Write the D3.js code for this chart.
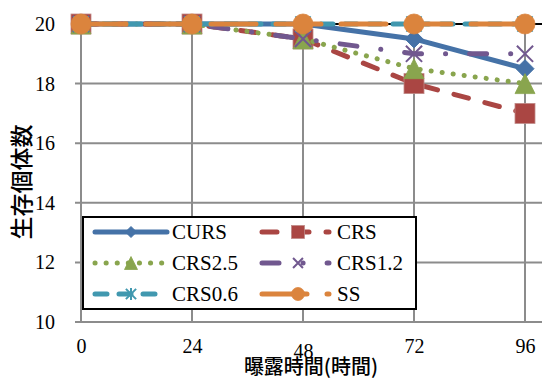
<!DOCTYPE html>
<html><head><meta charset="utf-8">
<script src="https://cdn.jsdelivr.net/npm/d3@7"></script>
<style>body{margin:0;background:#fff}svg{display:block}
svg text.serif{font-family:"Liberation Serif","Times New Roman",Tinos,serif !important}
</style>
</head><body>
<script>
const hours = [0, 24, 48, 72, 96];
const xTicks = ["0", "24", "48", "72", "96"];
const yTicks = [10, 12, 14, 16, 18, 20];
const seriesNames = ["CURS", "CRS", "CRS2.5", "CRS1.2", "CRS0.6", "SS"];
const valCURS  = [20, 20, 20, 19.5, 18.5];
const valCRS   = [20, 20, 19.5, 18, 17];
const valCRS25 = [20, 20, 19.5, 18.5, 18];
const valCRS12 = [20, 20, 19.5, 19, 19];
const valCRS06 = [20, 20, 20, 20, 20];
const valSS    = [20, 20, 20, 20, 20];
const xTitle = "曝露時間(時間)";
const yTitle = "生存個体数";

const W = 542, H = 380;
const SERIF = '"Liberation Serif", "Times New Roman", Tinos, serif';
const svg = d3.select("body").append("svg").attr("width", W).attr("height", H);
const x = d3.scaleLinear().domain([0, 96]).range([81, 525]);
const y = d3.scaleLinear().domain([10, 20]).range([322, 24]);
const grid = "#8c8c8c";

function serifText(sel, size) {
  return sel.attr("class", "serif").attr("font-family", null)
    .style("font-family", SERIF, "important")
    .attr("font-size", null).style("font-size", size + "px", "important").attr("fill", "#000");
}

// gridlines
const g = svg.append("g");
yTicks.forEach(t => {
  g.append("line").attr("x1", 75).attr("x2", W).attr("y1", y(t)).attr("y2", y(t))
   .attr("stroke", t === 20 ? "#000" : grid).attr("stroke-width", 2);
});
hours.forEach(h => {
  g.append("line").attr("x1", x(h)).attr("x2", x(h)).attr("y1", y(20)).attr("y2", y(10))
   .attr("stroke", grid).attr("stroke-width", 2);
});

// series definitions
const series = [
  {name: seriesNames[0], vals: valCURS,  color: "#4572A7", dash: null,           marker: "diamond"},
  {name: seriesNames[1], vals: valCRS,   color: "#AA4643", dash: "15,17",        marker: "square"},
  {name: seriesNames[2], vals: valCRS25, color: "#89A54E", dash: "0.1,11",       marker: "triangle"},
  {name: seriesNames[3], vals: valCRS12, color: "#71588F", dash: "17,24,0.1,24", marker: "x"},
  {name: seriesNames[4], vals: valCRS06, color: "#4198AF", dash: "12,12",        marker: "star"},
  {name: seriesNames[5], vals: valSS,    color: "#DB843D", dash: "45,20",        marker: "circle"}
];

function drawMarker(sel, type, cx, cy, color, s) {
  const h = s / 2;
  if (type === "diamond") {
    sel.append("path").attr("d", `M${cx},${cy - h}L${cx + h},${cy}L${cx},${cy + h}L${cx - h},${cy}Z`)
      .attr("fill", color).attr("stroke", color).attr("stroke-width", 1);
  } else if (type === "square") {
    sel.append("rect").attr("x", cx - h).attr("y", cy - h).attr("width", s).attr("height", s)
      .attr("fill", color).attr("stroke", "#c08a88").attr("stroke-width", 0.8);
  } else if (type === "triangle") {
    sel.append("path").attr("d", `M${cx},${cy - h}L${cx + h},${cy + h}L${cx - h},${cy + h}Z`)
      .attr("fill", color).attr("stroke", color).attr("stroke-width", 0.8);
  } else if (type === "x") {
    const k = h * 0.9;
    sel.append("path").attr("d", `M${cx - k},${cy - k}L${cx + k},${cy + k}M${cx - k},${cy + k}L${cx + k},${cy - k}`)
      .attr("stroke", color).attr("stroke-width", 2).attr("fill", "none");
  } else if (type === "star") {
    const k = h * 0.85;
    sel.append("path").attr("d", `M${cx - k},${cy - k}L${cx + k},${cy + k}M${cx - k},${cy + k}L${cx + k},${cy - k}M${cx},${cy - h}L${cx},${cy + h}`)
      .attr("stroke", color).attr("stroke-width", 2).attr("fill", "none");
  } else if (type === "circle") {
    sel.append("circle").attr("cx", cx).attr("cy", cy).attr("r", h)
      .attr("fill", color).attr("stroke", color).attr("stroke-width", 0.8);
  }
}

const chartSize = {diamond: 18, square: 20, triangle: 20, x: 18, star: 18, circle: 20};
const legendSize = {diamond: 11, square: 13, triangle: 13, x: 11, star: 12, circle: 13};

const line = d3.line().x((d, i) => x(hours[i])).y(d => y(d));
const plot = svg.append("g");
series.forEach(s => {
  const gs = plot.append("g");
  const p = gs.append("path").attr("d", line(s.vals)).attr("fill", "none")
    .attr("stroke", s.color).attr("stroke-width", 5)
    .attr("stroke-linecap", s.dash ? "round" : "butt").attr("stroke-linejoin", "round");
  if (s.dash) p.attr("stroke-dasharray", s.dash);
  s.vals.forEach((v, i) => drawMarker(gs, s.marker, x(hours[i]), y(v), s.color, chartSize[s.marker]));
});

// legend
const lg = svg.append("g");
lg.append("rect").attr("x", 83).attr("y", 217).attr("width", 333).attr("height", 92)
  .attr("fill", "#fff").attr("stroke", "#000").attr("stroke-width", 2);
const rows = [232, 263, 294];
const cols = [{x1: 95, x2: 167, m: 131, t: 172}, {x1: 262, x2: 329, m: 298, t: 337}];
series.forEach((s, i) => {
  const c = cols[i % 2], ry = rows[Math.floor(i / 2)];
  const p = lg.append("line").attr("x1", c.x1).attr("x2", c.x2).attr("y1", ry).attr("y2", ry)
    .attr("stroke", s.color).attr("stroke-width", 5).attr("stroke-linecap", "round");
  if (s.dash) p.attr("stroke-dasharray", s.dash);
  drawMarker(lg, s.marker, c.m, ry, s.color, legendSize[s.marker]);
  serifText(lg.append("text").attr("x", c.t).attr("y", ry).attr("dy", "0.35em"), 21).text(s.name);
});

// axes labels via d3 axes
const yAxis = svg.append("g").attr("transform", `translate(${x(0) - 23},0)`)
  .call(d3.axisLeft(y).tickValues(yTicks).tickSize(0).tickFormat(d3.format("d")));
yAxis.attr("font-family", null).attr("font-size", null);
yAxis.select(".domain").remove();
serifText(yAxis.selectAll("text"), 20);

const xAxis = svg.append("g").attr("transform", `translate(0,${y(10) + 14})`)
  .call(d3.axisBottom(x).tickValues(hours).tickSize(0).tickFormat((d, i) => xTicks[i]));
xAxis.attr("font-family", null).attr("font-size", null);
xAxis.select(".domain").remove();
serifText(xAxis.selectAll("text"), 20).attr("dy", (d, i) => i === 2 ? "0.95em" : "0.71em");

svg.append("text").attr("x", 311).attr("y", 374).attr("text-anchor", "middle")
  .style("font-family", '"Noto Sans CJK JP", sans-serif')
  .style("font-size", "20px").style("font-weight", 500).text(xTitle);
svg.append("text").attr("transform", "translate(30,182) rotate(-90)").attr("text-anchor", "middle")
  .style("font-family", '"Noto Sans CJK JP", sans-serif')
  .style("font-size", "23px").style("font-weight", 500).text(yTitle);
</script>
</body></html>
